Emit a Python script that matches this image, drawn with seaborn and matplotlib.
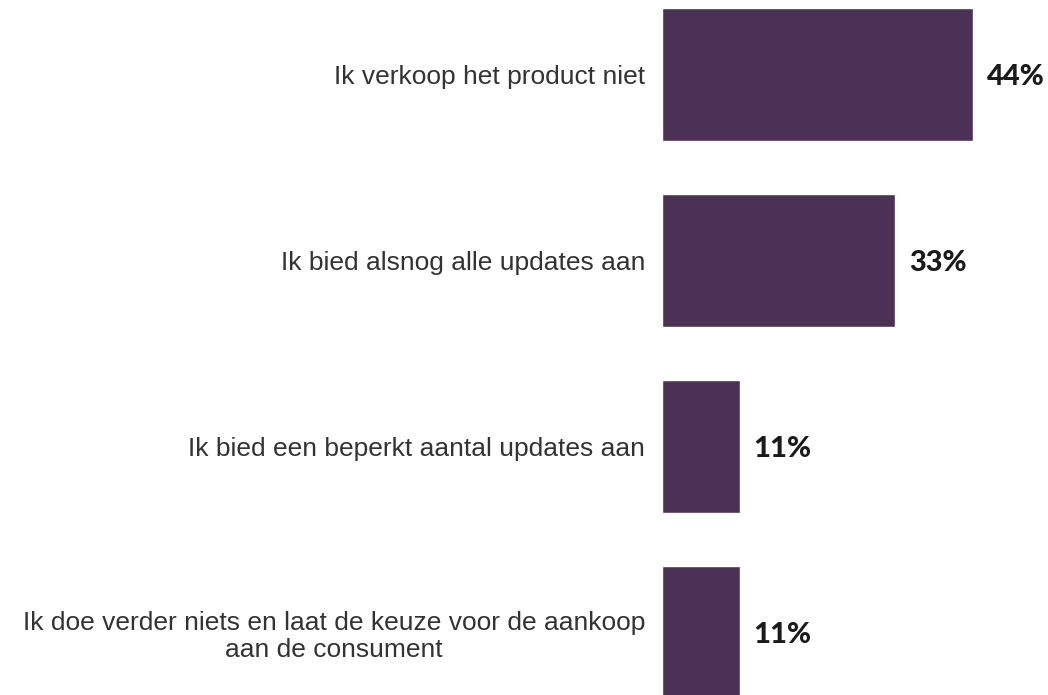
import pandas as pd
import matplotlib.pyplot as plt
import seaborn as sns

labels = ["Ik verkoop het product niet",
          "Ik bied alsnog alle updates aan",
          "Ik bied een beperkt aantal updates aan",
          "Ik doe verder niets en laat de keuze voor de aankoop\naan de consument"]
values = [44, 33, 11, 11]

df = pd.DataFrame({"label": labels, "value": values})

sns.set_style("white")
fig = plt.figure(figsize=(10.48, 6.95), dpi=100)
ax = fig.add_axes([0.6317, 0, 0.3368, 1])
sns.barplot(data=df, x="value", y="label", color="#4b3254", saturation=1, width=0.715, ax=ax)
ax.set_xlim(0, 50)
ax.set_ylim(3.336, -0.4005)
ax.set_xlabel("")
ax.set_ylabel("")
ax.set_xticks([])
sns.despine(ax=ax, left=True, bottom=True)
ax.tick_params(axis="y", length=0, pad=12)
for t in ax.get_yticklabels():
    t.set_fontfamily("Liberation Sans")
    t.set_fontsize(19)
    t.set_color("#333333")
    t.set_multialignment("center")
    t.set_linespacing(1.15)
txts = ax.bar_label(ax.containers[0], labels=[f"{v}%" for v in values], padding=10,
                    fontsize=21, fontweight="black", family="Lato", color="#1a1a1a", clip_on=False)
for t in txts:
    t.set_va("center_baseline")
fig.savefig("out.png", dpi=100)
